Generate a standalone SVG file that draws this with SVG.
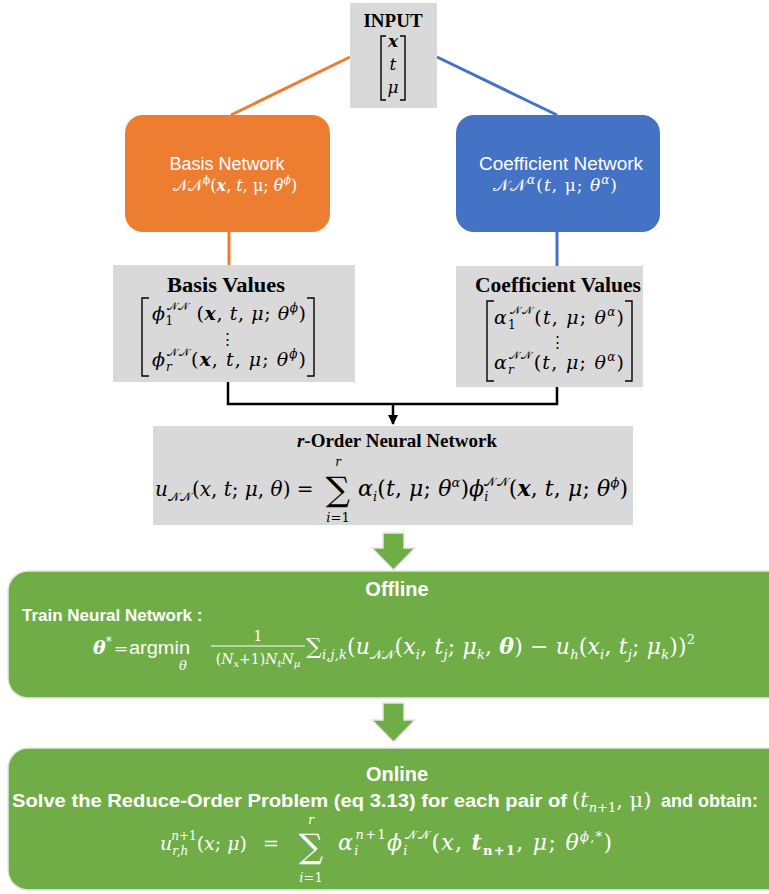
<svg xmlns="http://www.w3.org/2000/svg" width="769" height="894" viewBox="0 0 769 894">
<defs>
<style>
.gray{fill:#d9d9d9}
.sans{font-family:"Liberation Sans",Arial,sans-serif}
.serif{font-family:"Liberation Serif","DejaVu Serif",serif}
.m{font-family:"DejaVu Serif","Liberation Serif",serif}
.it{font-style:italic}
.bd{font-weight:bold}
.scr{font-family:"DejaVu Sans","Noto Sans",serif;font-style:normal}
.w{fill:#ffffff}
.k{fill:#000000}
.mid{text-anchor:middle}
.green{fill:#70ad47;stroke:#e6e6e6;stroke-width:1.5}
.garrow{fill:#70ad47;stroke:#e6e6e6;stroke-width:1.5}
.brk{fill:none;stroke:#000;stroke-width:1.4}
</style>
<marker id="ah" viewBox="0 0 10 10" refX="9" refY="5" markerWidth="4" markerHeight="4" orient="auto"><path d="M0,0 L10,5 L0,10 z" fill="#000"/></marker>
</defs>
<rect width="769" height="894" fill="#ffffff"/>

<g id="connectors">
<path d="M231,115 L350,57" stroke="#ed7d31" stroke-width="3" fill="none"/>
<path d="M437,57 L557,115" stroke="#4472c4" stroke-width="3" fill="none"/>
<path d="M229,232 V265" stroke="#ed7d31" stroke-width="3" fill="none"/>
<path d="M557,232 V266" stroke="#4472c4" stroke-width="3" fill="none"/>
<path d="M228,382 V404 H557 V387" stroke="#000" stroke-width="2.5" fill="none"/>
<path d="M393,404 V424" stroke="#000" stroke-width="2.5" fill="none" marker-end="url(#ah)"/>
<polygon class="garrow" points="383,533 404,533 404,548 415,548 393.5,570 372,548 383,548"/>
<polygon class="garrow" points="383,703 404,703 404,720 415,720 393.5,742 372,720 383,720"/>
</g>

<g id="input">
<rect class="gray" x="350" y="3" width="87" height="105"/>
<text class="serif bd k mid" x="393" y="27" font-size="19">INPUT</text>
<path class="brk" d="M386,36 H381 V100 H386 M400,36 H405 V100 H400"/>
<text class="m k mid it bd" x="393" y="47" font-size="17">x</text>
<text class="m k mid it" x="393" y="70" font-size="17">t</text>
<text class="m k mid it" x="393" y="93" font-size="17">μ</text>
</g>

<g id="basis-network">
<rect x="125" y="115" width="205" height="117" rx="18" fill="#ed7d31"/>
<text class="sans w mid" x="227" y="170" font-size="17.5" textLength="115" lengthAdjust="spacingAndGlyphs">Basis Network</text>
<text class="m w mid" x="235" y="191" font-size="16"><tspan class="scr">𝒩𝒩</tspan><tspan dy="-7" font-size="11">ϕ</tspan><tspan dy="7">(</tspan><tspan class="it bd">x</tspan>, <tspan class="it">t</tspan>, μ; <tspan class="it">θ</tspan><tspan dy="-7" font-size="11" class="it">ϕ</tspan><tspan dy="7">)</tspan></text>
</g>

<g id="coefficient-network">
<rect x="456" y="115" width="204" height="117" rx="18" fill="#4472c4"/>
<text class="sans w mid" x="561" y="170" font-size="17.5" textLength="164" lengthAdjust="spacingAndGlyphs">Coefficient Network</text>
<text class="m w mid" x="555" y="191" font-size="17" textLength="124" lengthAdjust="spacing"><tspan class="scr">𝒩𝒩</tspan><tspan dy="-7" font-size="12" class="it">α</tspan><tspan dy="7">(</tspan><tspan class="it">t</tspan>, μ; <tspan class="it">θ</tspan><tspan dy="-7" font-size="12" class="it">α</tspan><tspan dy="7">)</tspan></text>
</g>

<g id="basis-values">
<rect class="gray" x="113" y="265" width="242" height="117"/>
<text class="serif bd k mid" x="226" y="292" font-size="20" textLength="118" lengthAdjust="spacingAndGlyphs">Basis Values</text>
<path class="brk" d="M149,298 H142 V376 H149 M307,298 H314 V376 H307"/>
<text class="m k" x="152" y="320" font-size="19" textLength="154" lengthAdjust="spacing"><tspan class="it">ϕ</tspan><tspan dy="5" font-size="12">1</tspan><tspan dx="-7" dy="-15" font-size="11" class="scr">𝒩𝒩</tspan><tspan dy="10"> (</tspan><tspan class="it bd">x</tspan>, <tspan class="it">t</tspan>, <tspan class="it">μ</tspan>; <tspan class="it">θ</tspan><tspan dy="-8" font-size="12" class="it">ϕ</tspan><tspan dy="8">)</tspan></text>
<text class="serif k mid" x="227" y="344" font-size="15">⋮</text>
<text class="m k" x="152" y="366" font-size="19" textLength="154" lengthAdjust="spacing"><tspan class="it">ϕ</tspan><tspan dy="5" font-size="12" class="it">r</tspan><tspan dx="-6" dy="-15" font-size="11" class="scr">𝒩𝒩</tspan><tspan dy="10">(</tspan><tspan class="it bd">x</tspan>, <tspan class="it">t</tspan>, <tspan class="it">μ</tspan>; <tspan class="it">θ</tspan><tspan dy="-8" font-size="12" class="it">ϕ</tspan><tspan dy="8">)</tspan></text>
</g>

<g id="coefficient-values">
<rect class="gray" x="456" y="266" width="187" height="121"/>
<text class="serif bd k mid" x="558" y="292" font-size="20" textLength="166" lengthAdjust="spacingAndGlyphs">Coefficient Values</text>
<path class="brk" d="M494,301 H487 V381 H494 M625,301 H632 V381 H625"/>
<text class="m k" x="494" y="324" font-size="19" textLength="130" lengthAdjust="spacing"><tspan class="it">α</tspan><tspan dy="5" font-size="12">1</tspan><tspan dx="-7" dy="-15" font-size="11" class="scr">𝒩𝒩</tspan><tspan dy="10">(</tspan><tspan class="it">t</tspan>, <tspan class="it">μ</tspan>; <tspan class="it">θ</tspan><tspan dy="-8" font-size="12" class="it">α</tspan><tspan dy="8">)</tspan></text>
<text class="serif k mid" x="557" y="347" font-size="15">⋮</text>
<text class="m k" x="494" y="369" font-size="19" textLength="130" lengthAdjust="spacing"><tspan class="it">α</tspan><tspan dy="5" font-size="12" class="it">r</tspan><tspan dx="-6" dy="-15" font-size="11" class="scr">𝒩𝒩</tspan><tspan dy="10">(</tspan><tspan class="it">t</tspan>, <tspan class="it">μ</tspan>; <tspan class="it">θ</tspan><tspan dy="-8" font-size="12" class="it">α</tspan><tspan dy="8">)</tspan></text>
</g>

<g id="r-order-network">
<rect class="gray" x="153" y="426" width="480" height="99"/>
<text class="serif bd k mid" x="397" y="447" font-size="19"><tspan class="it">r</tspan>-Order Neural Network</text>
<text class="m k" x="155" y="496" font-size="20"><tspan class="it">u</tspan><tspan dy="5" font-size="12" class="scr">𝒩𝒩</tspan><tspan dy="-5">(</tspan><tspan class="it">x</tspan>, <tspan class="it">t</tspan>; <tspan class="it">μ</tspan>, <tspan class="it">θ</tspan>) =</text>
<text class="m k mid" x="338" y="501" font-size="34">∑</text>
<text class="m k mid it" x="338" y="466" font-size="12">r</text>
<text class="m k mid" x="338" y="522" font-size="13"><tspan class="it">i</tspan>=1</text>
<text class="m k" x="358" y="496" font-size="22" textLength="270" lengthAdjust="spacing"><tspan class="it">α</tspan><tspan dy="5" font-size="13" class="it">i</tspan><tspan dy="-5">(</tspan><tspan class="it">t</tspan>, <tspan class="it">μ</tspan>; <tspan class="it">θ</tspan><tspan dy="-9" font-size="13" class="it">α</tspan><tspan dy="9">)</tspan><tspan class="it">ϕ</tspan><tspan dy="5" font-size="13" class="it">i</tspan><tspan dx="-4" dy="-15" font-size="12" class="scr">𝒩𝒩</tspan><tspan dy="10">(</tspan><tspan class="it bd">x</tspan>, <tspan class="it">t</tspan>, <tspan class="it">μ</tspan>; <tspan class="it">θ</tspan><tspan dy="-9" font-size="13" class="it">ϕ</tspan><tspan dy="9">)</tspan></text>
</g>

<g id="offline">
<rect class="green" x="8" y="571" width="790" height="127" rx="20"/>
<text class="sans bd w mid" x="397" y="596" font-size="20">Offline</text>
<text class="sans bd w" x="22" y="621" font-size="17">Train Neural Network :</text>
<text class="m w" x="93" y="654" font-size="19"><tspan class="it bd">θ</tspan><tspan dy="-8" font-size="12">*</tspan></text>
<text class="m w" x="114" y="654" font-size="17">=</text>
<text class="sans w" x="129" y="654" font-size="19" textLength="61" lengthAdjust="spacingAndGlyphs">argmin</text>
<text class="m w it mid" x="183" y="670" font-size="13">θ</text>
<text class="m w mid" x="258" y="641" font-size="14">1</text>
<path d="M211,646 H305" stroke="#ffffff" stroke-width="1"/>
<text class="m w mid" x="258" y="664" font-size="14">(<tspan class="it">N</tspan><tspan dy="3" font-size="10" class="it">x</tspan><tspan dy="-3">+1)</tspan><tspan class="it">N</tspan><tspan dy="3" font-size="10" class="it">t</tspan><tspan dy="-3" class="it">N</tspan><tspan dy="3" font-size="10" class="it">μ</tspan></text>
<text class="m w" x="306" y="654" font-size="22" textLength="389" lengthAdjust="spacing">∑<tspan dy="5" font-size="13" class="it">i,j,k</tspan><tspan dy="-5">(</tspan><tspan class="it">u</tspan><tspan dy="5" font-size="13" class="scr">𝒩𝒩</tspan><tspan dy="-5">(</tspan><tspan class="it">x</tspan><tspan dy="5" font-size="13" class="it">i</tspan><tspan dy="-5">, </tspan><tspan class="it">t</tspan><tspan dy="5" font-size="13" class="it">j</tspan><tspan dy="-5">; </tspan><tspan class="it">μ</tspan><tspan dy="5" font-size="13" class="it">k</tspan><tspan dy="-5">, </tspan><tspan class="it bd">θ</tspan>) − <tspan class="it">u</tspan><tspan dy="5" font-size="13" class="it">h</tspan><tspan dy="-5">(</tspan><tspan class="it">x</tspan><tspan dy="5" font-size="13" class="it">i</tspan><tspan dy="-5">, </tspan><tspan class="it">t</tspan><tspan dy="5" font-size="13" class="it">j</tspan><tspan dy="-5">; </tspan><tspan class="it">μ</tspan><tspan dy="5" font-size="13" class="it">k</tspan><tspan dy="-5">))</tspan><tspan dy="-10" font-size="13">2</tspan></text>
</g>

<g id="online">
<rect class="green" x="8" y="748" width="790" height="142" rx="20"/>
<text class="sans bd w mid" x="397" y="781" font-size="20">Online</text>
<text class="sans bd w" x="12" y="807" font-size="18" textLength="555" lengthAdjust="spacingAndGlyphs">Solve the Reduce-Order Problem (eq 3.13) for each pair of</text>
<text class="m w" x="572" y="807" font-size="21">(<tspan class="it">t</tspan><tspan dy="5" font-size="13" class="it">n</tspan><tspan font-size="13">+1</tspan><tspan dy="-5">, μ)</tspan></text>
<text class="sans bd w" x="661" y="807" font-size="18" textLength="97" lengthAdjust="spacingAndGlyphs">and obtain:</text>
<text class="m w" x="160" y="850" font-size="19"><tspan class="it">u</tspan><tspan dy="5" font-size="12" class="it">r,h</tspan><tspan dx="-17" dy="-15" font-size="12" class="it">n</tspan><tspan font-size="12">+1</tspan><tspan dy="10">(</tspan><tspan class="it">x</tspan>; <tspan class="it">μ</tspan>)</text>
<text class="m w" x="263" y="850" font-size="19">=</text>
<text class="m w mid" x="311" y="858" font-size="34">∑</text>
<text class="m w mid it" x="311" y="823.5" font-size="12">r</text>
<text class="m w mid" x="311" y="882" font-size="13"><tspan class="it">i</tspan>=1</text>
<text class="m w" x="338" y="850" font-size="22" textLength="274" lengthAdjust="spacing"><tspan class="it">α</tspan><tspan dy="5" font-size="13" class="it">i</tspan><tspan dx="-4" dy="-16" font-size="13" class="it">n</tspan><tspan font-size="13">+1</tspan><tspan dy="11" class="it">ϕ</tspan><tspan dy="5" font-size="13" class="it">i</tspan><tspan dx="-4" dy="-16" font-size="12" class="scr">𝒩𝒩</tspan><tspan dy="11">(</tspan><tspan class="it">x</tspan>, <tspan class="it bd">t</tspan><tspan dy="5" font-size="13" class="bd">n+1</tspan><tspan dy="-5">, </tspan><tspan class="it">μ</tspan>; <tspan class="it">θ</tspan><tspan dy="-9" font-size="13"><tspan class="it">ϕ</tspan>,*</tspan><tspan dy="9">)</tspan></text>
</g>
</svg>
